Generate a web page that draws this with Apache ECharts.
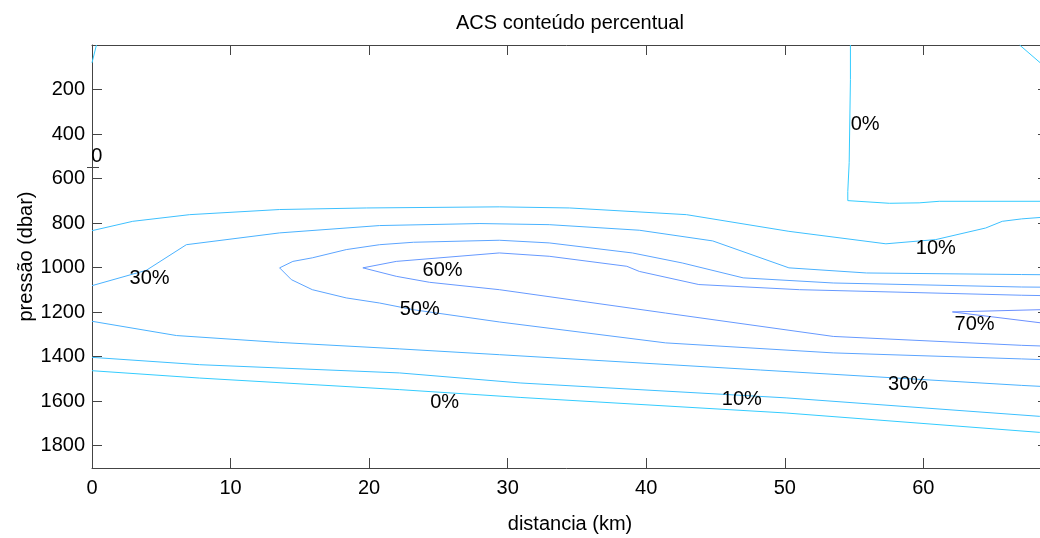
<!DOCTYPE html>
<html>
<head>
<meta charset="utf-8">
<script src="https://cdn.jsdelivr.net/npm/echarts@6/dist/echarts.min.js"></script>
<style>html,body{margin:0;padding:0;background:#fff}#c{width:1040px;height:538px}</style>
</head>
<body>
<div id="c"></div>
<script>
// ---- data (distance km, pressure dbar) ----
const xTicks = [0, 10, 20, 30, 40, 50, 60];
const yTicks = [200, 400, 600, 800, 1000, 1200, 1400, 1600, 1800];

const c0TopLeft = [[0, 80], [0.32, 0]];
const c0TopRight = [[66.95, 0], [69, 110]];
const c0Box = [[54.74, 0], [54.74, 155], [54.65, 528], [54.55, 658], [54.55, 699], [57.55, 711], [59.7, 709], [61.15, 702], [69, 702]];
const c10Top = [[0, 834], [2.94, 792], [7.05, 762], [13.54, 739], [19.8, 732], [29.4, 727], [34.47, 732], [42.9, 762], [50.3, 837], [57.3, 893], [60.9, 874], [64.5, 822], [65.7, 792], [67.1, 781], [69, 772]];
const c30Top = [[0, 1081], [3.92, 1012], [6.81, 897], [13.54, 844], [20.76, 811], [28.0, 802], [33.0, 807], [39.5, 832], [44.8, 880], [50.3, 1001], [55.9, 1024], [67.1, 1031], [69, 1032]];
const c50 = [[69, 1088], [67.1, 1087], [53.5, 1069], [47.0, 1046], [42.6, 979], [39.0, 934], [33.0, 889], [29.4, 877], [23.2, 886], [20.76, 897], [18.35, 919], [15.9, 956], [14.5, 972], [13.54, 1001], [14.39, 1054], [15.9, 1099], [18.35, 1136], [20.76, 1159], [23.2, 1189], [29.4, 1244], [41.4, 1338], [53.5, 1383], [67.1, 1410], [69, 1414]];
const c60 = [[69, 1126], [67.1, 1124], [51.06, 1099], [43.8, 1076], [39.5, 1017], [38.6, 994], [33.0, 949], [29.4, 934], [21.96, 972], [19.55, 1001], [21.96, 1039], [24.37, 1066], [29.4, 1099], [41.4, 1204], [53.5, 1309], [67.1, 1349], [69, 1353]];
const c70 = [[69, 1188], [62.1, 1199], [69, 1252]];
const c30Bot = [[0, 1241], [6.09, 1305], [13.54, 1336], [22.2, 1365], [29.4, 1391], [67.1, 1529], [69, 1535]];
const c10Bot = [[0, 1403], [7.77, 1436], [22.2, 1473], [30.9, 1518], [50.1, 1585], [68.4, 1668], [69, 1671]];
const c0Bot = [[0, 1463], [7.77, 1496], [22.2, 1548], [30.9, 1583], [50.1, 1653], [68.4, 1740], [69, 1743]];

const contourLabels = [
  [55.8, 358, '0%'], [60.9, 915, '10%'], [4.16, 1049, '30%'], [25.3, 1014, '60%'],
  [23.65, 1190, '50%'], [63.7, 1256, '70%'], [58.9, 1526, '30%'], [46.9, 1593, '10%'],
  [25.45, 1607, '0%'], [0.35, 500, '0']
];

const levelColor = {
  '0': '#33ccff', '10': '#3dc0ff', '30': '#4ab2ff', '50': '#5ca4ff', '60': '#6699ff', '70': '#6c90ff'
};

const FONT = 'Liberation Sans, Arial, Helvetica, sans-serif';
const AX = '#444';

function contour(data, lvl) {
  return {
    type: 'line', data: data, symbol: 'none', showSymbol: false, silent: true,
    lineStyle: { color: levelColor[lvl], width: 1 }, animation: false, z: 2
  };
}

const chart = echarts.init(document.getElementById('c'), null, { renderer: 'canvas' });
const axisCommon = {
  axisLine: { show: true, onZero: false, lineStyle: { color: AX, width: 1 } },
  axisTick: { show: true, inside: true, length: 10, lineStyle: { color: AX, width: 1 } },
  splitLine: { show: false }
};

chart.setOption({
  backgroundColor: '#fff',
  animation: false,
  title: {
    text: 'ACS conteúdo percentual', left: 451, top: 8,
    textStyle: { fontSize: 20, fontWeight: 'normal', color: '#000', fontFamily: FONT }
  },
  grid: { left: 92, top: 45, width: 956, height: 423, outerBoundsMode: 'none', containLabel: false },
  xAxis: [
    Object.assign({
      type: 'value', position: 'bottom', min: 0, max: 69, interval: 10,
      name: 'distancia (km)', nameLocation: 'middle', nameGap: 46, nameMoveOverlap: false,
      nameTextStyle: { fontSize: 20, color: '#000', fontFamily: FONT },
      axisLabel: { fontSize: 20, color: '#000', margin: 10, fontFamily: FONT,
        formatter: v => xTicks.includes(v) ? String(v) : '' }
    }, axisCommon),
    Object.assign({
      type: 'value', position: 'top', min: 0, max: 69, interval: 10,
      axisLabel: { show: false }
    }, axisCommon)
  ],
  yAxis: [
    Object.assign({
      type: 'value', position: 'left', inverse: true, min: 0, max: 1900, interval: 200,
      name: 'pressão (dbar)', nameLocation: 'middle', nameGap: 56, nameRotate: 90, nameMoveOverlap: false,
      nameTextStyle: { fontSize: 20, color: '#000', fontFamily: FONT },
      axisLabel: { fontSize: 20, color: '#000', margin: 7, fontFamily: FONT,
        formatter: v => yTicks.includes(v) ? String(v) : '' }
    }, axisCommon),
    Object.assign({
      type: 'value', position: 'right', inverse: true, min: 0, max: 1900, interval: 200,
      axisLabel: { show: false }
    }, axisCommon)
  ],
  series: [
    contour(c0TopLeft, '0'), contour(c0TopRight, '0'), contour(c0Box, '0'),
    contour(c10Top, '10'), contour(c30Top, '30'), contour(c50, '50'),
    contour(c60, '60'), contour(c70, '70'), contour(c30Bot, '30'),
    contour(c10Bot, '10'), contour(c0Bot, '0'),
    {
      type: 'scatter', symbolSize: 0, silent: true, animation: false, z: 5,
      itemStyle: { opacity: 1 },
      data: contourLabels.map(d => ({ value: [d[0], d[1]], name: d[2] })),
      label: { show: true, position: 'inside', formatter: '{b}', fontSize: 20, color: '#000',
        opacity: 1, textBorderWidth: 0, fontFamily: FONT }
    }
  ],
  graphic: [
    { type: 'line', shape: { x1: 87, y1: 167.5, x2: 99, y2: 167.5 }, style: { stroke: AX, lineWidth: 1 }, silent: true }
  ]
});
</script>
</body>
</html>
